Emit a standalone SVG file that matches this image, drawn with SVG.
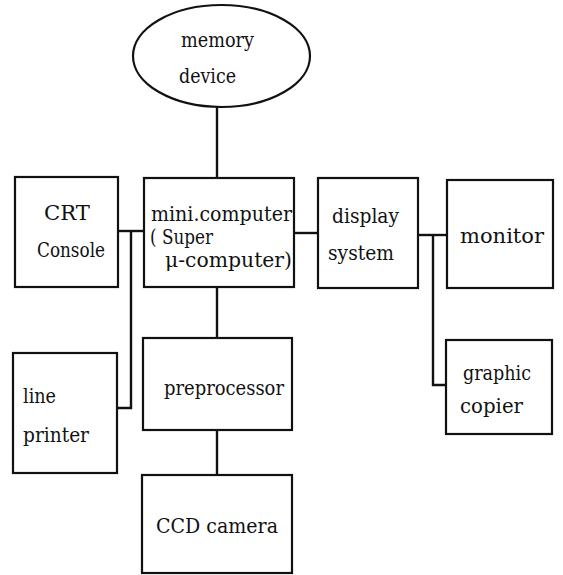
<svg xmlns="http://www.w3.org/2000/svg" width="563" height="575" viewBox="0 0 563 575">
<style>
.box{fill:#fff;stroke:#111;stroke-width:2.2}
.wire{fill:none;stroke:#111;stroke-width:2.4;stroke-linejoin:miter}
.t{font-family:"DejaVu Serif","Liberation Serif",serif;font-size:20px;fill:#111}
</style>
<rect width="563" height="575" fill="#fff"/>
<g id="connectors">
<line class="wire" x1="217" y1="107" x2="217" y2="178"/>
<line class="wire" x1="118" y1="231" x2="144" y2="231"/>
<polyline class="wire" points="131,231 131,408 117,408"/>
<line class="wire" x1="294" y1="233" x2="318" y2="233"/>
<line class="wire" x1="217" y1="287" x2="217" y2="338"/>
<line class="wire" x1="217" y1="430" x2="217" y2="475"/>
<line class="wire" x1="418" y1="235" x2="447" y2="235"/>
<polyline class="wire" points="433,235 433,385 446,385"/>
</g>
<g id="memory">
<ellipse class="box" cx="221.5" cy="56" rx="88.5" ry="51"/>
<text class="t" x="181" y="47" textLength="73" lengthAdjust="spacingAndGlyphs">memory</text>
<text class="t" x="179" y="83" textLength="57" lengthAdjust="spacingAndGlyphs">device</text>
</g>
<g id="crt">
<rect class="box" x="15" y="177" width="103" height="110"/>
<text class="t" x="44" y="220" textLength="46" lengthAdjust="spacingAndGlyphs">CRT</text>
<text class="t" x="37" y="257" textLength="68" lengthAdjust="spacingAndGlyphs">Console</text>
</g>
<g id="mini">
<rect class="box" x="144" y="178" width="150" height="109"/>
<text class="t" x="151" y="221" textLength="141" lengthAdjust="spacingAndGlyphs">mini.computer</text>
<text class="t" x="150" y="244" textLength="63" lengthAdjust="spacingAndGlyphs">( Super</text>
<text class="t" x="165" y="267" textLength="127" lengthAdjust="spacingAndGlyphs">μ-computer)</text>
</g>
<g id="display">
<rect class="box" x="318" y="178" width="100" height="110"/>
<text class="t" x="332" y="223" textLength="67" lengthAdjust="spacingAndGlyphs">display</text>
<text class="t" x="328" y="260" textLength="66" lengthAdjust="spacingAndGlyphs">system</text>
</g>
<g id="monitor">
<rect class="box" x="447" y="180" width="106" height="108"/>
<text class="t" x="460" y="243" textLength="84" lengthAdjust="spacingAndGlyphs">monitor</text>
</g>
<g id="printer">
<rect class="box" x="13" y="353" width="104" height="120"/>
<text class="t" x="23" y="403" textLength="33" lengthAdjust="spacingAndGlyphs">line</text>
<text class="t" x="23" y="442" textLength="66" lengthAdjust="spacingAndGlyphs">printer</text>
</g>
<g id="preprocessor">
<rect class="box" x="143" y="338" width="149" height="92"/>
<text class="t" x="164" y="395" textLength="120" lengthAdjust="spacingAndGlyphs">preprocessor</text>
</g>
<g id="ccd">
<rect class="box" x="142" y="475" width="150" height="98"/>
<text class="t" x="156" y="533" textLength="122" lengthAdjust="spacingAndGlyphs">CCD camera</text>
</g>
<g id="copier">
<rect class="box" x="446" y="340" width="106" height="94"/>
<text class="t" x="463" y="380" textLength="68" lengthAdjust="spacingAndGlyphs">graphic</text>
<text class="t" x="460" y="413" textLength="63" lengthAdjust="spacingAndGlyphs">copier</text>
</g>
</svg>
